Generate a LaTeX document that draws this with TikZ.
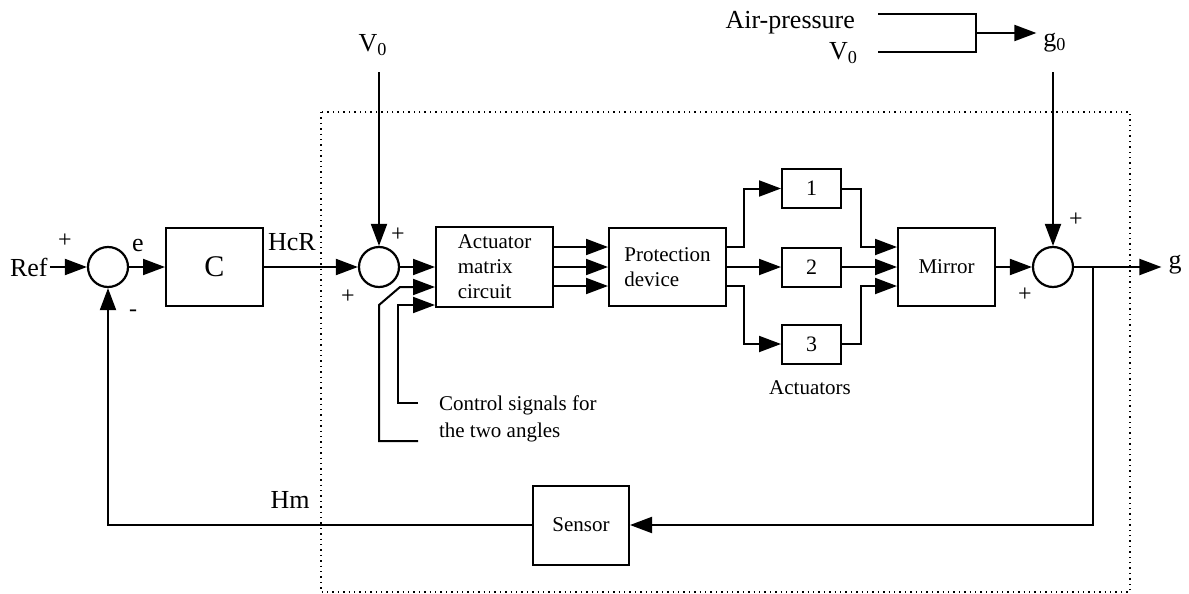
\documentclass[tikz,border=0pt]{standalone}
\usepackage{fontspec}
\setmainfont{Liberation Serif}
\usetikzlibrary{positioning, arrows.meta, calc}

\tikzset{
  block/.style={draw, line width=1pt, inner sep=0pt, font=\fontsize{10.5}{12.5}\selectfont},
  sumnode/.style={draw, circle, line width=1.1pt, minimum size=20pt, inner sep=0pt},
  sig/.style={line width=1pt, -{Triangle[length=11pt,width=8pt]}},
  wire/.style={line width=1pt},
  lbl/.style={font=\fontsize{13}{15}\selectfont},
  sgn/.style={font=\fontsize{12}{14}\selectfont},
  small/.style={font=\fontsize{10.5}{13.5}\selectfont}
}

\begin{document}
\begin{tikzpicture}[x=0.5pt, y=-0.5pt]
  \useasboundingbox (0,0) rectangle (1189,594);
  % plant boundary
  \draw[dotted, line width=0.7pt] (321,112) rectangle (1130,592);

  % blocks
  \node[sumnode] (s1) at (108,267) {};
  \node[block, minimum width=48.5pt, minimum height=39pt, font=\fontsize{15}{17}\selectfont] (ctrl) at (214.5,267) {C};
  \node[sumnode] (s2) at (379,267) {};
  \node[block, minimum width=58.5pt, minimum height=40pt, align=left] (amc) at (494.5,267) {Actuator\\matrix\\circuit};
  \node[block, minimum width=58.5pt, minimum height=39pt, align=left] (prot) at (667.5,267) {Protection\\device};
  \foreach \k/\yy in {1/188.5, 2/267, 3/344}
    \node[block, minimum width=29.5pt, minimum height=19.5pt, font=\fontsize{11}{13}\selectfont] (act\k) at (811.5,\yy) {\k};
  \node[block, minimum width=48.5pt, minimum height=39pt] (mir) at (946.5,267) {Mirror};
  \node[sumnode] (s3) at (1053,267) {};
  \node[block, minimum width=48pt, minimum height=39.5pt] (sens) at (581,525) {Sensor};

  % signal labels
  \node[lbl, anchor=east, inner sep=1pt] (ref) at (50,267) {Ref};
  \node[lbl] (err) at (138,245) {e};
  \node[lbl] (hcr) at (292,242) {HcR};
  \node[lbl] (v0a) at (373,45) {V\textsubscript{0}};
  \node[lbl, anchor=east] (air) at (862,23) {Air-pressure};
  \node[lbl, anchor=east] (v0b) at (865,53) {V\textsubscript{0}};
  \node[lbl] (g0) at (1055,43) {g\textsubscript{0}};
  \node[lbl] (gout) at (1175,265) {g};
  \node[lbl] (hm) at (290,500) {Hm};
  \node[small] (actlbl) at (810,388) {Actuators};
  \node[small, align=left, anchor=west] (ctl) at (432,419) {Control signals for\\the two angles};

  % signs
  \node[sgn] (p1) at (65,241) {+};
  \node[sgn] (m1) at (133,313) {-};
  \node[sgn] (p2) at (398,235) {+};
  \node[sgn] (p3) at (348,297) {+};
  \node[sgn] (p4) at (1076,220) {+};
  \node[sgn] (p5) at (1025,295) {+};

  % free ends
  \coordinate (v0in) at (379,72);
  \coordinate (g0in) at (1053,72);
  \coordinate (ca) at (418,441);
  \coordinate (cb) at (418,403);
  \coordinate (apin) at (878,14);
  \coordinate (vbin) at (878,52);
  \coordinate (merge) at (976,33);
  \coordinate (br) at (1093,267);

  % forward path
  \draw[sig] (ref) -- (s1);
  \draw[sig] (s1) -- (ctrl);
  \draw[sig] (ctrl) -- (s2);
  \draw[sig] (v0in) -- (s2);
  \draw[sig] (s2) -- (amc);
  \draw[sig] (ca) -- ++(-39,0) -- ++(0,-136) -- ++(21,-18) -- ($(amc.west)+(0,20)$);
  \draw[sig] (cb) -- ++(-20,0) -- ++(0,-98) -- ($(amc.west)+(0,38)$);
  \foreach \dy in {-20,0,19}
    \draw[sig] ($(amc.east)+(0,\dy)$) -- ($(prot.west)+(0,\dy)$);
  \draw[sig] ($(prot.east)+(0,-20)$) -- ++(17,0) |- (act1);
  \draw[sig] (prot) -- (act2);
  \draw[sig] ($(prot.east)+(0,19)$) -- ++(17,0) |- (act3);
  \draw[sig] (act1.east) -- ++(19,0) |- ($(mir.west)+(0,-20)$);
  \draw[sig] (act2) -- (mir);
  \draw[sig] (act3.east) -- ++(19,0) |- ($(mir.west)+(0,19)$);
  \draw[sig] (mir) -- (s3);
  \draw[sig] (g0in) -- (s3);
  \draw[sig] (s3.east) -- (gout.west |- s3.east);

  % disturbance g0
  \draw[wire] (apin) -| (merge) |- (vbin);
  \draw[sig] (merge) -- (g0.west |- merge);

  % feedback
  \draw[sig] (br) |- (sens);
  \draw[sig] (sens) -| (s1);
\end{tikzpicture}
\end{document}
